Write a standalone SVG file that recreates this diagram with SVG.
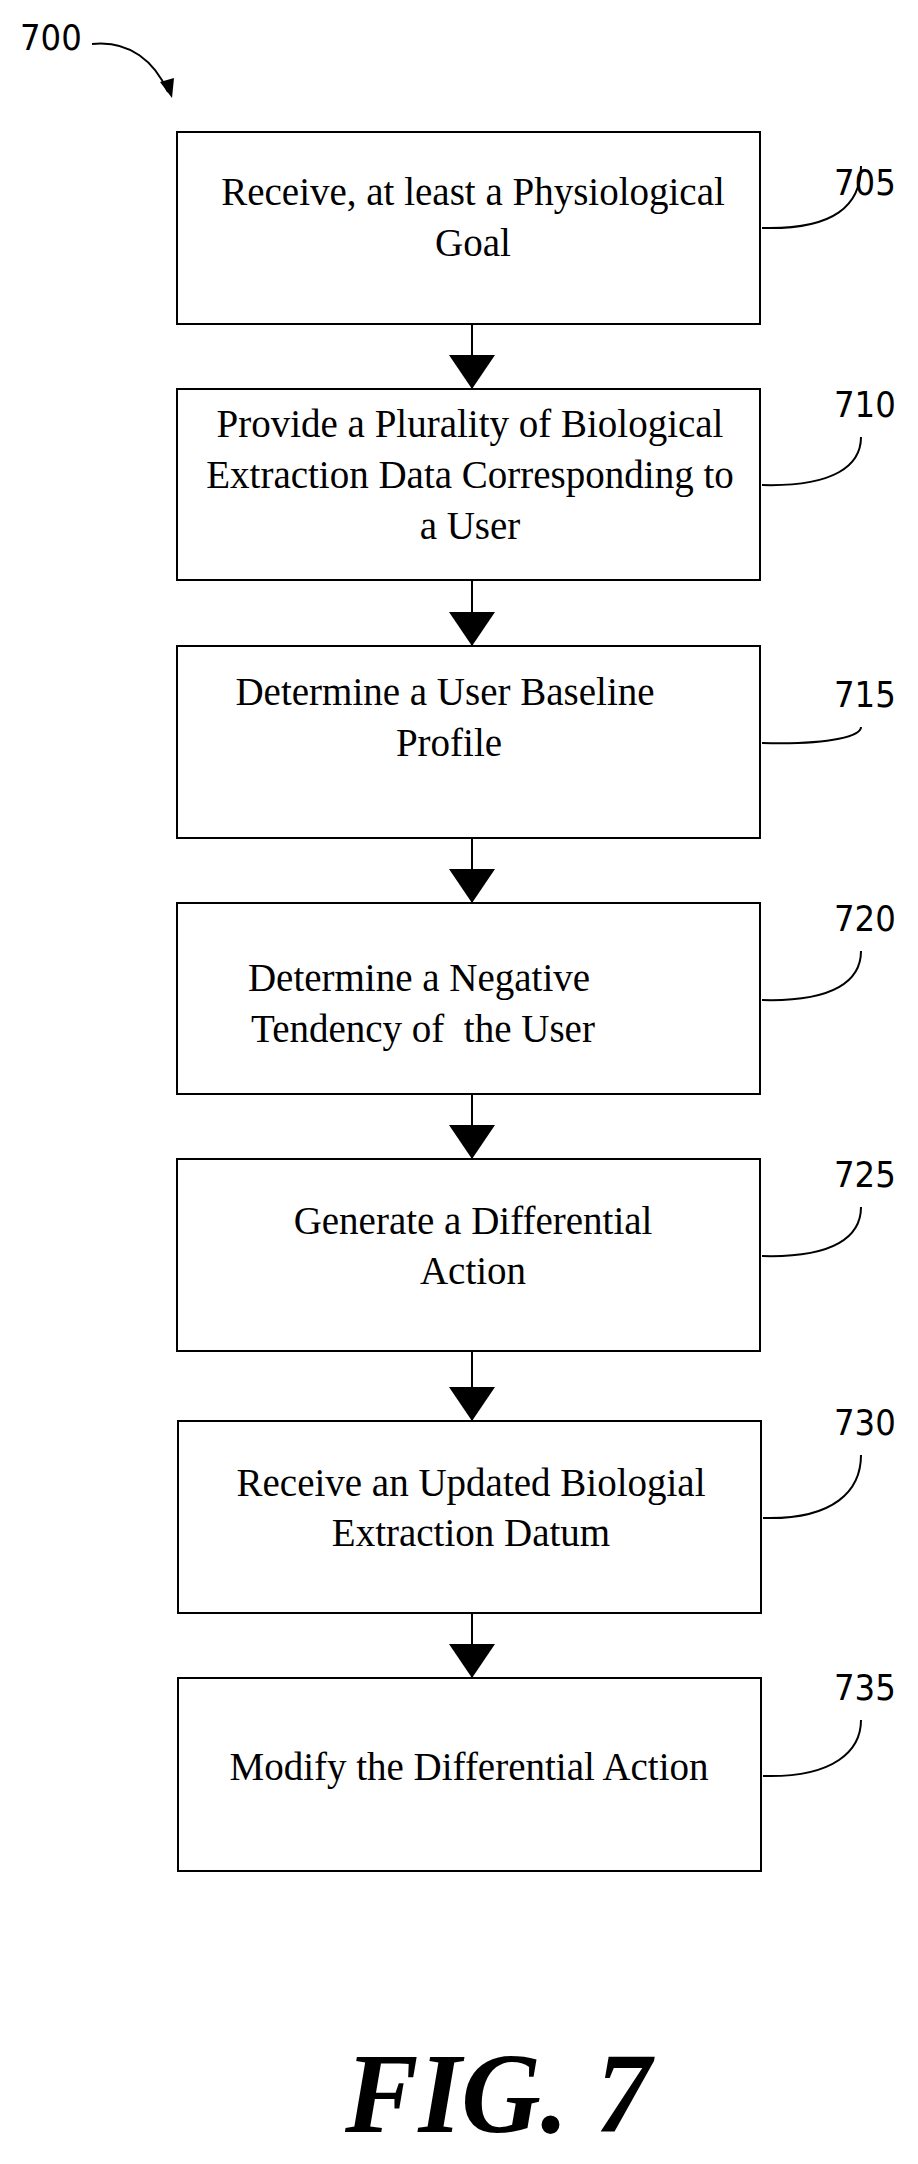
<svg xmlns="http://www.w3.org/2000/svg" width="918" height="2164" viewBox="0 0 918 2164">
<style>
.box{fill:#fff;stroke:#000;stroke-width:2}
.t{font-family:"Liberation Serif",serif;font-size:39px;text-anchor:middle;fill:#000}
.n{font-family:"DejaVu Sans Condensed","DejaVu Sans",sans-serif;font-size:36px;fill:#000}
.ld{fill:none;stroke:#000;stroke-width:2}
.c{stroke:#000;stroke-width:2;fill:none}
</style>
<defs>
<marker id="ah" markerWidth="34" markerHeight="46" refX="34" refY="23" orient="auto" markerUnits="userSpaceOnUse" viewBox="0 0 34 46"><path d="M0,0 L34,23 L0,46 Z" fill="#000"/></marker>
</defs>
<rect width="918" height="2164" fill="#fff"/>
<text class="n" x="20" y="50">700</text>
<path d="M92,44 C130,40 155,62 168,92" class="c"/>
<path d="M160,82 L172,98 L174,78 Z" fill="#000"/>
<g id="n705"><rect class="box" x="177" y="132" width="583" height="192"/><text class="t" x="473" y="205">Receive, at least a Physiological</text><text class="t" x="473" y="256">Goal</text><text class="n" x="834" y="195">705</text><path class="ld" d="M762,228 C835,230 861,205 861,166" transform="translate(0,0)"/></g>
<g id="n710"><rect class="box" x="177" y="389" width="583" height="191"/><text class="t" x="470" y="437">Provide a Plurality of Biological</text><text class="t" x="470" y="488">Extraction Data Corresponding to</text><text class="t" x="470" y="539">a User</text><text class="n" x="834" y="417">710</text><path class="ld" d="M762,485 C835,487 861,465 861,437"/></g>
<g id="n715"><rect class="box" x="177" y="646" width="583" height="192"/><text class="t" x="445" y="705">Determine a User Baseline</text><text class="t" x="449" y="756">Profile</text><text class="n" x="834" y="707">715</text><path class="ld" d="M762,743 C835,745 861,735 861,727"/></g>
<g id="n720"><rect class="box" x="177" y="903" width="583" height="191"/><text class="t" x="419" y="991">Determine a Negative</text><text class="t" x="423" y="1042" xml:space="preserve">Tendency of  the User</text><text class="n" x="834" y="931">720</text><path class="ld" d="M762,1000 C835,1002 861,980 861,951"/></g>
<g id="n725"><rect class="box" x="177" y="1159" width="583" height="192"/><text class="t" x="473" y="1234">Generate a Differential</text><text class="t" x="473" y="1284">Action</text><text class="n" x="834" y="1187">725</text><path class="ld" d="M762,1256 C835,1258 861,1236 861,1207"/></g>
<g id="n730"><rect class="box" x="178" y="1421" width="583" height="192"/><text class="t" x="471" y="1496">Receive an Updated Biologial</text><text class="t" x="471" y="1546">Extraction Datum</text><text class="n" x="834" y="1435">730</text><path class="ld" d="M763,1518 C835,1520 861,1490 861,1455"/></g>
<g id="n735"><rect class="box" x="178" y="1678" width="583" height="193"/><text class="t" x="469" y="1780">Modify the Differential Action</text><text class="n" x="834" y="1700">735</text><path class="ld" d="M763,1776 C835,1778 861,1750 861,1720"/></g>
<g id="connectors">
<line class="c" x1="472" y1="324" x2="472" y2="389" marker-end="url(#ah)"/>
<line class="c" x1="472" y1="580" x2="472" y2="646" marker-end="url(#ah)"/>
<line class="c" x1="472" y1="838" x2="472" y2="903" marker-end="url(#ah)"/>
<line class="c" x1="472" y1="1094" x2="472" y2="1159" marker-end="url(#ah)"/>
<line class="c" x1="472" y1="1351" x2="472" y2="1421" marker-end="url(#ah)"/>
<line class="c" x1="472" y1="1613" x2="472" y2="1678" marker-end="url(#ah)"/>
</g>
<text x="345" y="2132" font-family="Liberation Serif,serif" font-style="italic" font-weight="bold" font-size="115" textLength="306" lengthAdjust="spacingAndGlyphs">FIG. 7</text>
</svg>
